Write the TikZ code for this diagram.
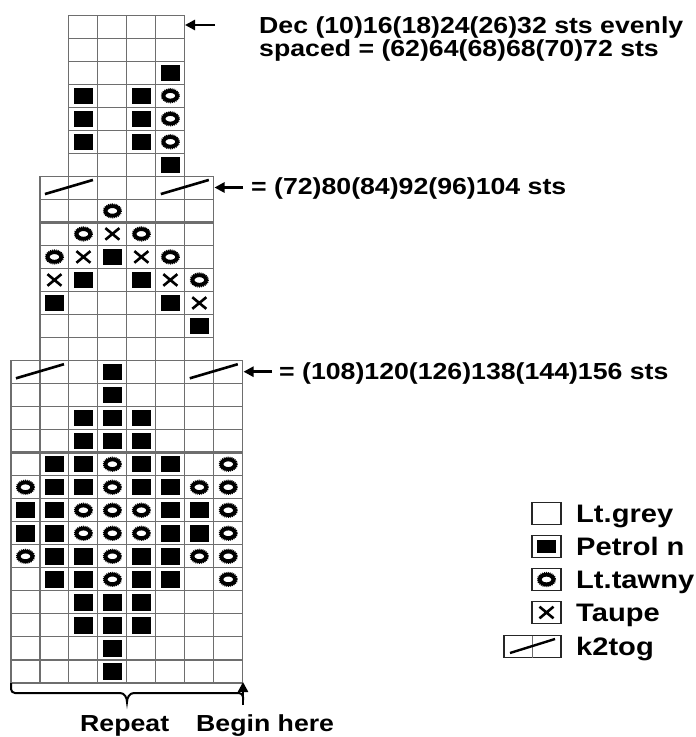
\documentclass[tikz,border=0pt]{standalone}
\usepackage{fontspec}
\setmainfont{Liberation Sans}[FakeStretch=1.15]
\usetikzlibrary{arrows.meta}
\definecolor{gridgray}{HTML}{6E6E6E}
\newcommand\chartcell[2]{\draw[gridln] ({11+28.97*#1},{683-23.03*#2}) rectangle ++(28.97,23.03);}
\newcommand\chartsym[3]{\pic at ({11+28.97*(#2+0.5)},{683-23.03*(#3-0.5)}) {#1};}
\newcommand\chartdec[2]{\pic at ({11+28.97*(#1+1)},{683-23.03*(#2-0.5)}) {k2togmark};}
\tikzset{
  gridln/.style={draw=gridgray, line width=1.1pt},
  sepln/.style={draw=gridgray, line width=3pt},
  legbox/.style={draw=black!85, line width=1.1pt},
  lbl/.style={font=\fontsize{23.2}{18.4}\selectfont\bfseries, inner sep=0pt, anchor=base west},
  leglbl/.style={font=\fontsize{25.3}{25.3}\selectfont\bfseries, inner sep=0pt, anchor=base west},
  pointer/.style={line width=2.6pt, -{Triangle[length=10pt,width=10pt]}},
  petrol/.pic={\fill[black] (-9.6,-8.2) rectangle (9.6,8.2);},
  tawny/.pic={
    \draw[line width=1.6pt, dash pattern=on 0.9pt off 1.0pt] (0,0) ellipse [x radius=8.8, y radius=6.8];
    \draw[line width=3.8pt] (0,0) ellipse [x radius=6.8, y radius=4.8];},
  taupe/.pic={\draw[line width=2.6pt] (-7,-5.8) -- (7,5.8) (-7,5.8) -- (7,-5.8);},
  k2togmark/.pic={\draw[line width=2.6pt] (-24,6.2) -- (24,-7.9);}
}
\begin{document}
\begin{tikzpicture}[x=1pt,y=-1pt]
\useasboundingbox (0,0) rectangle (696,737);
\clip (0,0) rectangle (696,737);
% grid
\foreach \r in {1,...,14}{\foreach \c in {0,...,7}{\chartcell{\c}{\r}}}
\foreach \r in {15,...,22}{\foreach \c in {1,...,6}{\chartcell{\c}{\r}}}
\foreach \r in {23,...,29}{\foreach \c in {2,...,5}{\chartcell{\c}{\r}}}
% separator lines
\draw[sepln] ({11},{683-23.03*10}) -- ({11+28.97*8},{683-23.03*10});
\draw[sepln] ({11+28.97},{683-23.03*20}) -- ({11+28.97*7},{683-23.03*20});
% bottom section
\chartsym{petrol}{3}{1}
\chartsym{petrol}{3}{2}
\foreach \c in {2,3,4}{\chartsym{petrol}{\c}{3}\chartsym{petrol}{\c}{4}}
\foreach \c/\s in {1/petrol,2/petrol,3/tawny,4/petrol,5/petrol,7/tawny}{\chartsym{\s}{\c}{5}\chartsym{\s}{\c}{10}}
\foreach \c/\s in {0/tawny,1/petrol,2/petrol,3/tawny,4/petrol,5/petrol,6/tawny,7/tawny}{\chartsym{\s}{\c}{6}\chartsym{\s}{\c}{9}}
\foreach \c/\s in {0/petrol,1/petrol,2/tawny,3/tawny,4/tawny,5/petrol,6/petrol,7/tawny}{\chartsym{\s}{\c}{7}\chartsym{\s}{\c}{8}}
\foreach \c in {2,3,4}{\chartsym{petrol}{\c}{11}\chartsym{petrol}{\c}{12}}
\chartsym{petrol}{3}{13}
\chartsym{petrol}{3}{14}
\chartdec{0}{14}
\chartdec{6}{14}
% middle section
\chartsym{petrol}{6}{16}
\foreach \c/\s in {1/petrol,5/petrol,6/taupe}{\chartsym{\s}{\c}{17}}
\foreach \c/\s in {1/taupe,2/petrol,4/petrol,5/taupe,6/tawny}{\chartsym{\s}{\c}{18}}
\foreach \c/\s in {1/tawny,2/taupe,3/petrol,4/taupe,5/tawny}{\chartsym{\s}{\c}{19}}
\foreach \c/\s in {2/tawny,3/taupe,4/tawny}{\chartsym{\s}{\c}{20}}
\chartsym{tawny}{3}{21}
\chartdec{1}{22}
\chartdec{5}{22}
% top section
\chartsym{petrol}{5}{23}
\foreach \r in {24,25,26}{\chartsym{petrol}{2}{\r}\chartsym{petrol}{4}{\r}\chartsym{tawny}{5}{\r}}
\chartsym{petrol}{5}{27}
% annotations
\node[lbl, anchor=north west, align=left] (t1) at (259,16.4) {Dec (10)16(18)24(26)32 sts evenly\\spaced = (62)64(68)68(70)72 sts};
\coordinate (a1tail) at (215,25);
\coordinate (a1tip) at (185,25);
\draw[pointer] (a1tail) -- (a1tip);
\node[lbl] (t3) at (251,194.3) {= (72)80(84)92(96)104 sts};
\coordinate (a2tail) at (243,187.5);
\coordinate (a2tip) at (214.5,187.5);
\draw[pointer] (a2tail) -- (a2tip);
\node[lbl] (t4) at (279,379.3) {= (108)120(126)138(144)156 sts};
\coordinate (a3tail) at (272,371.7);
\coordinate (a3tip) at (243.5,371.7);
\draw[pointer] (a3tail) -- (a3tip);
% brace and begin arrow
\coordinate (bl) at (11,683);
\coordinate (bm) at (127,702);
\coordinate (br) at (243,693);
\draw[line width=2pt, rounded corners=4pt] (bl) -- (11,693) -- (120,693);
\draw[line width=2pt] (120,693) to[out=0,in=90] (bm) to[out=90,in=180] (134,693);
\draw[line width=2pt, rounded corners=4pt] (134,693) -- (br) -- (243,700);
\coordinate (btail) at (243,705);
\coordinate (btip) at (243,682);
\draw[line width=2.4pt, -{Triangle[length=10pt,width=10pt]}] (btail) -- (btip);
\node[lbl] (rep) at (80,731) {Repeat};
\node[lbl] (beg) at (196,731) {Begin here};
% legend
\draw[legbox] (532,502.5) rectangle (561,524.5);
\node[leglbl] (l1) at (576,522.5) {Lt.grey};
\draw[legbox] (532,535.5) rectangle (561,557.5);
\fill[black] (537,540) rectangle (556,553);
\node[leglbl] (l2) at (576,555.5) {Petrol n};
\draw[legbox] (532,568.5) rectangle (561,590.5);
\pic at (546.5,579.5) {tawny};
\node[leglbl] (l3) at (576,588.5) {Lt.tawny};
\draw[legbox] (532,601.5) rectangle (561,623.5);
\pic at (546.5,612.5) {taupe};
\node[leglbl] (l4) at (576,621.5) {Taupe};
\draw[legbox] (504,635.5) rectangle (561,657.5);
\draw[gridln] (532.5,635.5) -- (532.5,657.5);
\draw[line width=2.4pt] (510,653) -- (555,639);
\node[leglbl] (l5) at (576,655.5) {k2tog};
\end{tikzpicture}
\end{document}
